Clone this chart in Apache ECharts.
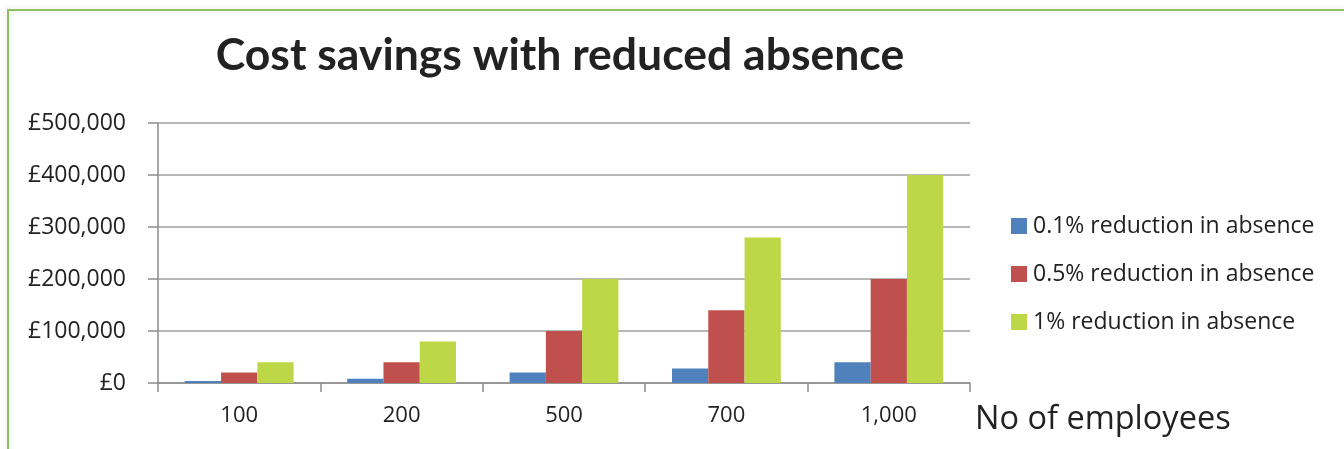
<!DOCTYPE html>
<html><head><meta charset="utf-8">
<script src="https://cdn.jsdelivr.net/npm/echarts@6/dist/echarts.min.js"></script>
<style>html,body{margin:0;padding:0;background:#fff;}#c{width:1344px;height:449px;}</style>
</head><body><div id="c"></div>
<script>
const categories = ['100', '200', '500', '700', '1,000'];
const seriesNames = ['0.1% reduction in absence', '0.5% reduction in absence', '1% reduction in absence'];
const s01 = [4000, 8000, 20000, 28000, 40000];
const s05 = [20000, 40000, 100000, 140000, 200000];
const s1 = [40000, 80000, 200000, 280000, 400000];
const colors = ['#4F81BD', '#C0504D', '#BDD747'];
const FONT = '"Open Sans", "Liberation Sans", sans-serif';
const TFONT = 'Lato, "Liberation Sans", sans-serif';

function fmt(v){ return '£' + String(v).replace(/\B(?=(\d{3})+(?!\d))/g, ','); }

const chart = echarts.init(document.getElementById('c'));
chart.setOption({
  animation: false,
  textStyle: {fontFamily: FONT},
  title: {
    text: 'Cost savings with reduced absence',
    left: 555, top: 28, textAlign: 'center',
    textStyle: {fontFamily: TFONT, fontWeight: 'bold', fontSize: 44.5, color: '#222'}
  },
  graphic: [{
    type: 'rect', shape: {x: 8, y: 10, width: 1400, height: 500},
    style: {fill: 'none', stroke: '#8CC063', lineWidth: 2, shadowBlur: 6, shadowColor: 'rgba(0,0,0,0.15)'},
    z: -1
  }],
  legend: {
    orient: 'vertical', left: 1006, top: 209,
    itemWidth: 16, itemHeight: 16, itemGap: 24,
    icon: 'rect',
    textStyle: {fontFamily: FONT, fontSize: 23, lineHeight: 24, color: '#222', padding: [0,0,0,1]},
    data: seriesNames
  },
  grid: {left: 158, right: 374, top: 123, bottom: 66, containLabel: false},
  xAxis: {
    type: 'category', data: categories,
    name: 'No of employees', nameLocation: 'end', nameGap: 5,
    nameTextStyle: {fontFamily: FONT, fontSize: 32.5, color: '#222', verticalAlign: 'top', padding: [20, 0, 0, 0]},
    axisLine: {lineStyle: {color: '#8C8C8C', width: 1.5}},
    axisTick: {show: true, alignWithLabel: false, length: 9, lineStyle: {color: '#8C8C8C', width: 1.5}},
    axisLabel: {fontFamily: FONT, fontSize: 22, color: '#222', margin: 22}
  },
  yAxis: {
    type: 'value', min: 0, max: 500000, interval: 100000,
    axisLine: {show: true, lineStyle: {color: '#8C8C8C', width: 1.5}},
    axisTick: {show: true, length: 10, lineStyle: {color: '#8C8C8C', width: 1.5}},
    splitLine: {lineStyle: {color: '#A0A0A0', width: 1.5}},
    axisLabel: {fontFamily: FONT, fontSize: 23, color: '#222', margin: 32, formatter: fmt}
  },
  series: [
    {name: seriesNames[0], type: 'bar', data: s01, itemStyle: {color: colors[0]}, barGap: '0%', barCategoryGap: '33%'},
    {name: seriesNames[1], type: 'bar', data: s05, itemStyle: {color: colors[1]}, barGap: '0%', barCategoryGap: '33%'},
    {name: seriesNames[2], type: 'bar', data: s1, itemStyle: {color: colors[2]}, barGap: '0%', barCategoryGap: '33%'}
  ]
});
</script></body></html>
